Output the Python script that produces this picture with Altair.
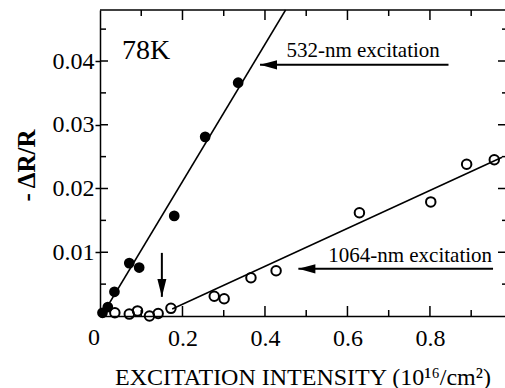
import altair as alt
import pandas as pd

FONT = "Liberation Serif"
W, H = 405, 306
XMAX, YMAX = 0.982, 0.048

# 532-nm excitation (filled circles)
x532 = [0.006, 0.019, 0.035, 0.071, 0.095, 0.180, 0.255, 0.335]
y532 = [0.0005, 0.0014, 0.0038, 0.0083, 0.0076, 0.0157, 0.0281, 0.0366]
# 1064-nm excitation (open circles)
x1064 = [0.036, 0.071, 0.091, 0.120, 0.141, 0.172, 0.277, 0.301, 0.366, 0.427, 0.629, 0.802, 0.889, 0.956]
y1064 = [0.0005, 0.0003, 0.0008, 0.0000, 0.0004, 0.0012, 0.0031, 0.0027, 0.0060, 0.0071, 0.0162, 0.0179, 0.0238, 0.0245]
# fitted lines
fit532_x = [0.004, 0.450]
fit532_y = [0.0, 0.048]
fit1064_x = [0.175, 0.975]
fit1064_y = [0.0011, 0.0249]
# tick values
x_major = [0.2, 0.4, 0.6, 0.8]
x_minor = [0.1, 0.3, 0.5, 0.7, 0.9]
y_major = [0.01, 0.02, 0.03, 0.04]
y_minor = [0.005, 0.015, 0.025, 0.035, 0.045]
x_labels = [0.2, 0.4, 0.6, 0.8]
zero_label = ["0"]
# annotations
ann_text = ["532-nm excitation", "1064-nm excitation"]
ann_x = [0.638, 0.752]
ann_y = [0.0415, 0.0094]
harrow_x1 = [0.388, 0.481]
harrow_x2 = [0.845, 0.953]
harrow_y = [0.0394, 0.0074]
varrow_x = [0.150]
varrow_y1 = [0.0099]
varrow_y2 = [0.0030]
temp_label = ["78K"]
temp_x = [0.112]
temp_y = [0.0415]

xs = alt.Scale(domain=[0, XMAX], nice=False, zero=False)
ys = alt.Scale(domain=[0, YMAX], nice=False, zero=False)

d532 = pd.DataFrame({"x": x532, "y": y532})
d1064 = pd.DataFrame({"x": x1064, "y": y1064})
f532 = pd.DataFrame({"x": fit532_x, "y": fit532_y})
f1064 = pd.DataFrame({"x": fit1064_x, "y": fit1064_y})

filled = alt.Chart(d532).mark_point(shape="circle", filled=True, color="black", size=115, opacity=1).encode(
    x=alt.X("x:Q", scale=xs, axis=alt.Axis(
        values=x_labels, format=".1f",
        ticks=False, grid=False, domain=True, domainColor="black", domainWidth=1.5,
        labelFont=FONT, labelFontSize=24, labelColor="black", labelPadding=10,
        title="EXCITATION INTENSITY (10¹⁶/cm²)", titleFont=FONT, titleFontSize=24,
        titleFontWeight="normal", titleColor="black",
        titleX=W / 2, titleY=61, titleAlign="center", titleBaseline="middle")),
    y=alt.Y("y:Q", scale=ys, axis=alt.Axis(
        values=y_major, format=".2f",
        ticks=True, tickSize=5, tickWidth=1.5, tickColor="black", grid=False,
        domain=True, domainColor="black", domainWidth=1.5,
        labelFont=FONT, labelFontSize=24, labelColor="black", labelPadding=1,
        title="-  ΔR/R", titleFont=FONT, titleFontSize=25, titleFontWeight="bold",
        titleColor="black", titleAngle=-90, titleX=-74, titleY=H / 2 + 2,
        titleAlign="center", titleBaseline="middle")),
)

opened = alt.Chart(d1064).mark_point(shape="circle", filled=False, color="black", size=90,
                                     strokeWidth=2, opacity=1).encode(
    x=alt.X("x:Q", scale=xs), y=alt.Y("y:Q", scale=ys))

line532 = alt.Chart(f532).mark_line(color="black", strokeWidth=1.5).encode(
    x=alt.X("x:Q", scale=xs), y=alt.Y("y:Q", scale=ys))
line1064 = alt.Chart(f1064).mark_line(color="black", strokeWidth=1.5).encode(
    x=alt.X("x:Q", scale=xs), y=alt.Y("y:Q", scale=ys))


def xticks(vals, y0, y1):
    return alt.Chart(pd.DataFrame({"x": vals})).mark_rule(color="black", strokeWidth=1.5).encode(
        x=alt.X("x:Q", scale=xs), y=alt.value(y0), y2=alt.value(y1))


def yticks(vals, x0, x1):
    return alt.Chart(pd.DataFrame({"y": vals})).mark_rule(color="black", strokeWidth=1.5).encode(
        y=alt.Y("y:Q", scale=ys), x=alt.value(x0), x2=alt.value(x1))


ticks = [
    xticks(x_major, H, H - 10), xticks(x_minor, H, H - 6),
    xticks(x_major, 0, 10), xticks(x_minor, 0, 6),
    yticks(y_major, 0, 8), yticks(y_minor, 0, 6),
    yticks(y_major, W + 3, W - 7), yticks(y_minor, W + 3, W - 3),
]

top_border = alt.Chart(pd.DataFrame({"y": [YMAX]})).mark_rule(color="black", strokeWidth=1.5).encode(
    y=alt.Y("y:Q", scale=ys), x=alt.value(0), x2=alt.value(W + 5))

zero_txt = alt.Chart(pd.DataFrame({"t": zero_label, "x": [0.0], "y": [0.0]})).mark_text(
    font=FONT, fontSize=24, color="black", align="right", baseline="top", dy=10).encode(
    x=alt.X("x:Q", scale=xs), y=alt.Y("y:Q", scale=ys), text="t:N")

ann = alt.Chart(pd.DataFrame({"t": ann_text, "x": ann_x, "y": ann_y})).mark_text(
    font=FONT, fontSize=21, color="black", align="center", baseline="middle").encode(
    x=alt.X("x:Q", scale=xs), y=alt.Y("y:Q", scale=ys), text="t:N")

temp = alt.Chart(pd.DataFrame({"t": temp_label, "x": temp_x, "y": temp_y})).mark_text(
    font=FONT, fontSize=28, color="black", align="center", baseline="middle").encode(
    x=alt.X("x:Q", scale=xs), y=alt.Y("y:Q", scale=ys), text="t:N")

hdf = pd.DataFrame({"x1": harrow_x1, "x2": harrow_x2, "y": harrow_y})
hline = alt.Chart(hdf).mark_rule(color="black", strokeWidth=2).encode(
    x=alt.X("x1:Q", scale=xs), x2="x2:Q", y=alt.Y("y:Q", scale=ys))
hhead = alt.Chart(hdf).mark_point(shape="M 0 0 L 2 -0.55 L 2 0.55 Z", filled=True, color="black",
                                  size=289, opacity=1, strokeWidth=0).encode(
    x=alt.X("x1:Q", scale=xs), y=alt.Y("y:Q", scale=ys))

vdf = pd.DataFrame({"x": varrow_x, "y1": varrow_y1, "y2": varrow_y2})
vline = alt.Chart(vdf).mark_rule(color="black", strokeWidth=2).encode(
    x=alt.X("x:Q", scale=xs), y=alt.Y("y1:Q", scale=ys), y2="y2:Q")
vhead = alt.Chart(vdf).mark_point(shape="M 0 0 L -0.5 -2 L 0.5 -2 Z", filled=True, color="black",
                                  size=324, opacity=1, strokeWidth=0).encode(
    x=alt.X("x:Q", scale=xs), y=alt.Y("y2:Q", scale=ys))

chart = alt.layer(
    filled, line532, line1064, opened, *ticks, top_border, zero_txt, ann, temp, hline, hhead, vline, vhead
).properties(
    width=W, height=H, autosize=alt.AutoSizeParams(type="none"),
    padding={"left": 100, "top": 10, "right": 0, "bottom": 72},
    background="white",
).configure_view(stroke=None)

chart.save("out.html", embed_options={"renderer": "svg", "actions": False})
